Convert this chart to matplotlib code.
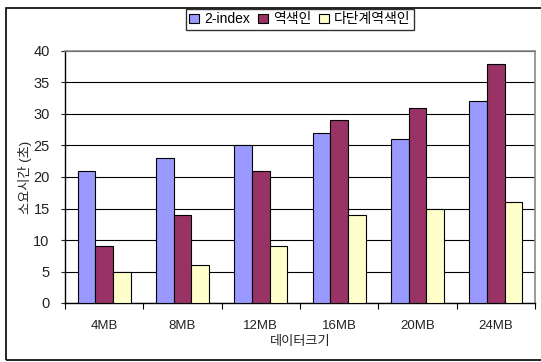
import matplotlib
matplotlib.use("Agg")
import matplotlib.pyplot as plt
from matplotlib.patches import Rectangle
import numpy as np

plt.rcParams['font.family'] = ['Liberation Sans', 'Noto Sans CJK KR', 'DejaVu Sans']

sizes = ["4MB", "8MB", "12MB", "16MB", "20MB", "24MB"]
two_index = [21, 23, 25, 27, 26, 32]
inverted = [9, 14, 21, 29, 31, 38]
multi_level = [5, 6, 9, 14, 15, 16]
series_names = ["2-index", "역색인", "다단계역색인"]
colors = ["#9999FF", "#993366", "#FFFFCC"]

fig = plt.figure(figsize=(5.41, 3.62), dpi=100)
ax = fig.add_axes([65 / 541, (362 - 303) / 362, 470 / 541, 252 / 362])

x = np.arange(len(sizes))
w = 0.225
for i, (vals, name, c) in enumerate(zip([two_index, inverted, multi_level], series_names, colors)):
    ax.bar(x + (i - 1) * w, vals, w, color=c, edgecolor="black", linewidth=0.8,
           label=name, zorder=3)

ax.set_xlim(-0.5, len(sizes) - 0.5)
ax.set_ylim(0, 40)
ax.set_yticks(range(0, 41, 5))
ax.yaxis.grid(True, color="black", linewidth=0.8, zorder=0)
ax.set_xticks(x)
ax.set_xticklabels(sizes, fontsize=9.5, color="#222222")
ax.tick_params(axis="x", length=0, pad=12)
ax.set_xticks(np.arange(-0.5, len(sizes), 1), minor=True)
ax.tick_params(axis="x", which="minor", length=4, direction="out", width=0.8)
ax.tick_params(axis="y", length=3, labelsize=10.5, colors="#222222", pad=8)

for s in ["left", "bottom"]:
    ax.spines[s].set_color("black")
    ax.spines[s].set_linewidth(1.0)
for s in ["top", "right"]:
    ax.spines[s].set_color("#888888")
    ax.spines[s].set_linewidth(1.2)

ax.set_xlabel("데이터크기", fontsize=9.5, color="#222222", labelpad=3)
ax.set_ylabel("소요시간 (초)", fontsize=9.5, color="#222222", labelpad=1)

fig.legend(loc="upper left", bbox_to_anchor=(186 / 541, 1 - 9 / 362), ncol=3,
           fontsize=10, frameon=True, fancybox=False, edgecolor="black",
           handlelength=0.7, handleheight=0.7, handletextpad=0.35,
           columnspacing=0.6, borderpad=0.25, borderaxespad=0)

fig.patches.append(Rectangle((6 / 541, 2 / 362), 1.2, 352 / 362,
                             transform=fig.transFigure, fill=False,
                             edgecolor="black", linewidth=1.2, clip_on=False))

fig.savefig("out.png", dpi=100)
